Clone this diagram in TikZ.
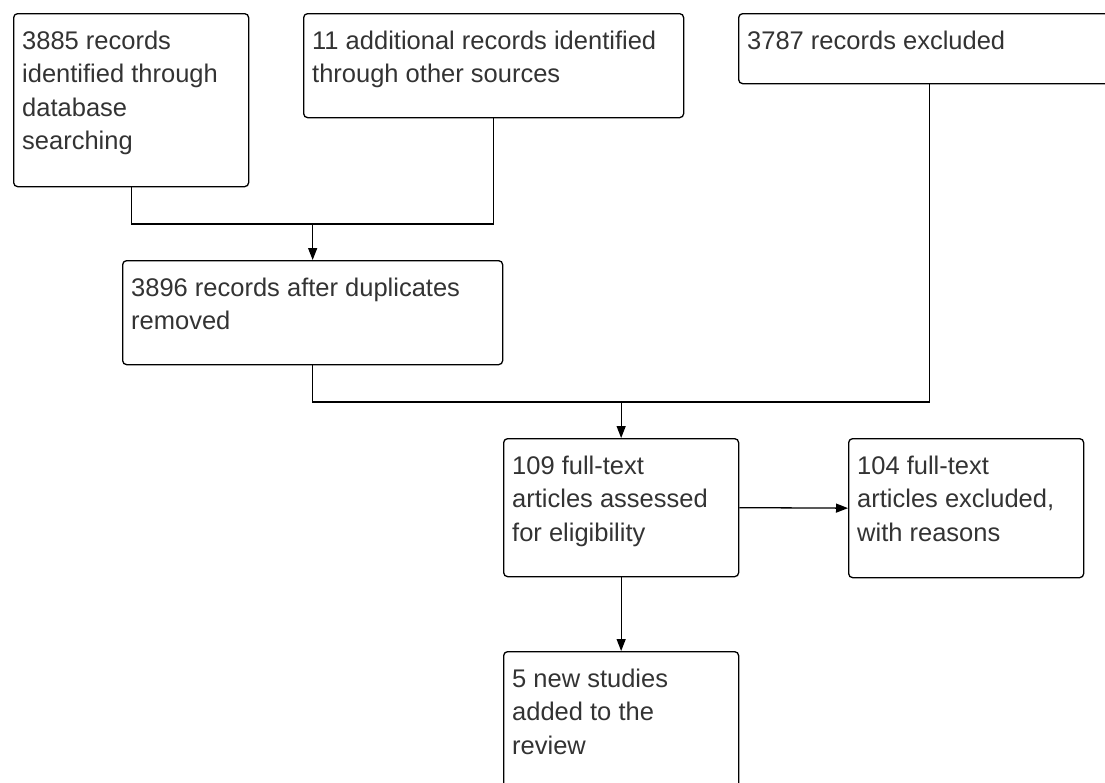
\documentclass[tikz,border=0pt]{standalone}
\usepackage{fontspec}
\setmainfont{Liberation Sans}
\usetikzlibrary{arrows.meta,calc}
\definecolor{txtgray}{HTML}{333333}
\tikzset{
  box/.style={draw=black, line width=1.3pt, rounded corners=4pt, fill=white, inner sep=0pt, anchor=north west},
  txt/.style={anchor=north west, inner sep=0pt, align=left, text=txtgray,
              font=\fontsize{25.5}{33.5}\selectfont},
  conn/.style={draw=black, line width=1.3pt},
  arr/.style={conn, -{Triangle[length=12pt,width=9pt]}}
}
\newcommand{\fs}{\rule{0pt}{20pt}}
\begin{document}
\begin{tikzpicture}[x=1pt,y=-1pt]
\useasboundingbox (0,0) rectangle (1105,782);
\fill[white] (0,0) rectangle (1105,782);
% boxes
\node[box, minimum width=235pt, minimum height=173pt] (b1) at (13,13) {};
\node[box, minimum width=380pt, minimum height=104pt] (b2) at (303,13) {};
\node[box, minimum width=382pt, minimum height=70pt] (b3) at (738,13) {};
\node[box, minimum width=380pt, minimum height=104pt] (b4) at (122,260) {};
\node[box, minimum width=235pt, minimum height=138pt] (b5) at (503,438) {};
\node[box, minimum width=235pt, minimum height=139pt] (b6) at (848,438) {};
\node[box, minimum width=235pt, minimum height=160pt] (b7) at (503,651) {};
% texts
\node[txt] (t1) at ($(b1.north west)+(9,16)$) {\fs 3885 records\\identified through\\database\\searching};
\node[txt] (t2) at ($(b2.north west)+(9,16)$) {\fs 11 additional records identified\\through other sources};
\node[txt] (t3) at ($(b3.north west)+(9,16)$) {\fs 3787 records excluded};
\node[txt] (t4) at ($(b4.north west)+(9,16)$) {\fs 3896 records after duplicates\\removed};
\node[txt] (t5) at ($(b5.north west)+(9,16)$) {\fs 109 full-text\\articles assessed\\for eligibility};
\node[txt] (t6) at ($(b6.north west)+(9,16)$) {\fs 104 full-text\\articles excluded,\\with reasons};
\node[txt] (t7) at ($(b7.north west)+(9,16)$) {\fs 5 new studies\\added to the\\review};
% junctions
\coordinate (j1) at (b4.north |- 0,224);
\coordinate (j2) at (b5.north |- 0,402);
% connectors
\draw[conn] (b1.south) |- (j1) -| (b2.south);
\draw[arr] (j1) -- (b4.north);
\draw[conn] (b4.south) |- (j2) -| (b3.south);
\draw[arr] (j2) -- (b5.north);
\draw[arr] (b5.east) -- (b6.west);
\draw[arr] (b5.south) -- (b7.north);
\end{tikzpicture}
\end{document}
